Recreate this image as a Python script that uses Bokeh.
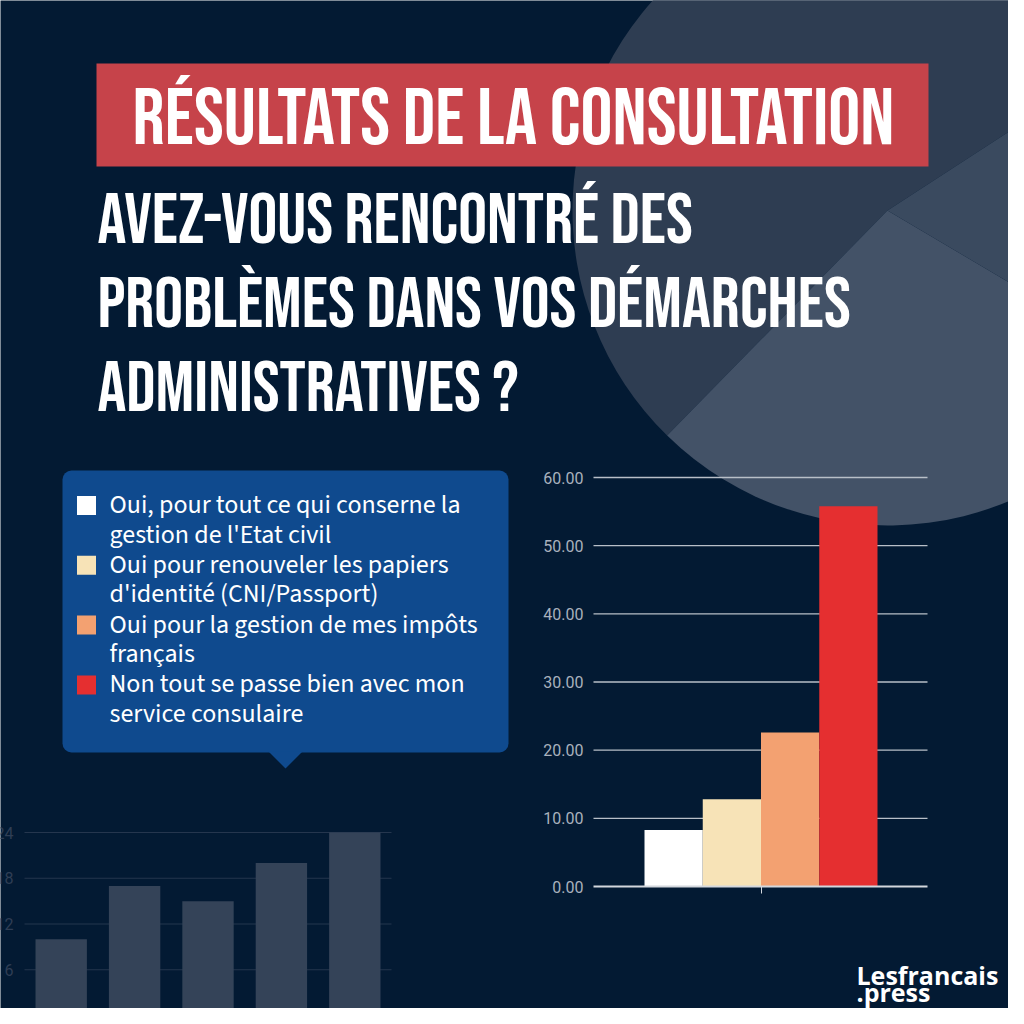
import subprocess
import numpy as np
from bokeh.plotting import figure
from bokeh.models import (Range1d, LinearAxis, FixedTicker, NumeralTickFormatter,
                          BoxAnnotation)
from bokeh.core.properties import value
from bokeh.embed import file_html
from bokeh.resources import INLINE

# ---------------- data ----------------
title_text = "RÉSULTATS DE LA CONSULTATION"
question_lines = ["AVEZ-VOUS RENCONTRÉ DES",
                  "PROBLÈMES DANS VOS DÉMARCHES",
                  "ADMINISTRATIVES ?"]
answers = ["Oui, pour tout ce qui conserne la\ngestion de l'Etat civil",
           "Oui pour renouveler les papiers\nd'identité (CNI/Passport)",
           "Oui pour la gestion de mes impôts\nfrançais",
           "Non tout se passe bien avec mon\nservice consulaire"]
percentages = [8.3, 12.8, 22.6, 55.8]
answer_colors = ["#ffffff", "#f7e3b7", "#f3a171", "#e52f30"]
y_ticks = [0, 10, 20, 30, 40, 50, 60]

deco_values = [10, 17, 15, 20, 24]
deco_ticks = [0, 6, 12, 18, 24]

brand_lines = ["Lesfrancais", ".press"]

# ---------------- fonts available ----------------
try:
    _fc = subprocess.run(["fc-list", ":", "family"], capture_output=True, text=True).stdout
    FAMS = set()
    for ln in _fc.splitlines():
        for f in ln.split(","):
            FAMS.add(f.strip())
except Exception:
    FAMS = set()


def pick(options, default):
    for name, *rest in options:
        if name in FAMS:
            return (name, *rest)
    return default


# (family, style, title size, question size)
HEAD_FONT, HEAD_STYLE, TITLE_SIZE, Q_SIZE = pick(
    [("Bebas Neue", "normal", 80, 72), ("Oswald", "bold", 60, 52),
     ("Anton", "normal", 58, 50), ("Archivo Narrow", "bold", 62, 54)],
    ("Roboto", "bold", 45, 44))
BODY_FONT, BODY_SIZE = pick(
    [("Source Sans Pro", 26), ("Source Sans 3", 26)], ("Open Sans", 23))


def css(name):
    return value(f"'{name}'")


# ---------------- styling ----------------
BG = "#031a33"
W = H = 1008


def span(px_a, v_a, px_b, v_b, px_lo, px_hi):
    k = (v_b - v_a) / (px_b - px_a)
    return Range1d(start=v_a + (px_lo - px_a) * k, end=v_a + (px_hi - px_a) * k)


def inv(rng, px_lo, px_hi, px):
    return rng.start + (px - px_lo) / (px_hi - px_lo) * (rng.end - rng.start)


p = figure(width=W, height=H,
           x_range=Range1d(0, W), y_range=Range1d(H, 0),
           output_backend="svg", toolbar_location=None,
           x_axis_type=None, y_axis_type=None, min_border=0,
           background_fill_color=BG, border_fill_color=BG, outline_line_color=None)

# chart coordinate systems (mapped onto the canvas pixels)
bx = span(644, 0.5, 877, 4.5, 0, W)
by = span(886, 0.0, 477, 60.0, H, 0)
dx = span(24, 0.5, 391, 5.5, 0, W)
dy = span(1015, 0.0, 832, 24.0, H, 0)
p.extra_x_ranges = {"bx": bx, "dx": dx}
p.extra_y_ranges = {"by": by, "dy": dy}

# ---------------- background disc (pie-like) ----------------
cx, cy, r = 887, 210, 315
a1, a2, a3 = np.deg2rad(33), np.deg2rad(225.6), np.deg2rad(329.4)
p.wedge(x=[cx] * 3, y=[cy] * 3, radius=r,
        start_angle=[a1, a2, a3], end_angle=[a2, a3, a1 + 2 * np.pi],
        fill_color=["#2e3d52", "#435267", "#3a4a5f"], line_color=None)

# ---------------- title banner ----------------
p.quad(left=96, right=928, top=63, bottom=166, fill_color="#c6434a", line_color=None)
p.text(x=[513], y=[119], text=[title_text], text_align="center",
       text_baseline="alphabetic", text_color="white",
       text_font=css(HEAD_FONT), text_font_style=HEAD_STYLE,
       text_font_size=f"{TITLE_SIZE}px")

p.text(x=[97] * 3, y=[221, 305, 389], text=question_lines, text_align="left",
       text_baseline="alphabetic", text_color="white",
       text_font=css(HEAD_FONT), text_font_style=HEAD_STYLE,
       text_font_size=f"{Q_SIZE}px")

# ---------------- legend box ----------------
box = BoxAnnotation(left=62, right=508, top=470, bottom=752,
                    fill_color="#0f4a8e", fill_alpha=1.0, line_color=None,
                    border_radius=9, level="underlay")
p.add_layout(box)
p.patch(x=[268, 302, 285], y=[751, 751, 768], fill_color="#0f4a8e", line_color=None)

first_base = 504
item_step = 59.8
line_step = 29.6
sq_y = [505 + i * item_step for i in range(len(answers))]
p.rect(x=[86] * len(answers), y=sq_y, width=19, height=19,
       fill_color=answer_colors, line_color=None)
lx, ly, lt = [], [], []
for i, lab in enumerate(answers):
    for j, part in enumerate(lab.split("\n")):
        lx.append(109)
        ly.append(first_base + i * item_step + j * line_step)
        lt.append(part)
p.text(x=lx, y=ly, text=lt, text_align="left", text_baseline="alphabetic",
       text_color="white", text_font=css(BODY_FONT),
       text_font_size=f"{BODY_SIZE}px")

# ---------------- decorative bar chart (bottom left) ----------------
p.segment(x0=0.5, x1=5.5, y0=deco_ticks[1:], y1=deco_ticks[1:],
          line_color="#25364e", line_width=1.2, x_range_name="dx", y_range_name="dy")
p.vbar(x=list(range(1, len(deco_values) + 1)), top=deco_values, width=0.7, bottom=0,
       fill_color="#344358", line_color=None, x_range_name="dx", y_range_name="dy")
dyax = LinearAxis(x_range_name="dx", y_range_name="dy", fixed_location=0.5,
                  ticker=FixedTicker(ticks=deco_ticks), axis_line_color=None,
                  major_tick_line_color=None, minor_tick_line_color=None,
                  major_tick_out=0, minor_tick_out=0, major_label_standoff=11,
                  major_label_text_color="#2f3e55",
                  major_label_text_font="Roboto", major_label_text_font_size="16px")
p.add_layout(dyax, "left")
dxax = LinearAxis(x_range_name="dx", y_range_name="dy", fixed_location=0,
                  ticker=FixedTicker(ticks=[0.5, 1.5, 2.5, 3.5, 4.5, 5.5]),
                  bounds=(0.5, 5.5), axis_line_color="#2c3c54", axis_line_width=1.5,
                  major_tick_line_color="#2c3c54", major_tick_out=6, major_tick_in=0,
                  minor_tick_line_color=None, major_label_text_alpha=0)
p.add_layout(dxax, "below")

# ---------------- main bar chart ----------------
x_lo = inv(bx, 0, W, 593)
x_hi = inv(bx, 0, W, 927)
p.segment(x0=x_lo, x1=x_hi, y0=y_ticks[1:], y1=y_ticks[1:],
          line_color="#b8bfc8", line_width=1.3, x_range_name="bx", y_range_name="by")
p.vbar(x=list(range(1, len(percentages) + 1)), top=percentages, width=1.0, bottom=0,
       fill_color=answer_colors, line_color=None, x_range_name="bx", y_range_name="by")
yax = LinearAxis(x_range_name="bx", y_range_name="by", fixed_location=x_lo,
                 ticker=FixedTicker(ticks=y_ticks),
                 formatter=NumeralTickFormatter(format="0.00"),
                 axis_line_color=None, major_tick_line_color=None,
                 minor_tick_line_color=None, major_tick_out=0, minor_tick_out=0,
                 major_label_standoff=10, major_label_text_color="#a9b1bd",
                 major_label_text_font="Roboto", major_label_text_font_size="16px")
p.add_layout(yax, "left")
xax = LinearAxis(x_range_name="bx", y_range_name="by", fixed_location=0,
                 ticker=FixedTicker(ticks=[2.5]), bounds=(x_lo, x_hi),
                 axis_line_color="#d3d7dd", axis_line_width=2,
                 major_tick_line_color="#d3d7dd", major_tick_out=7, major_tick_in=0,
                 minor_tick_line_color=None, major_label_text_alpha=0)
p.add_layout(xax, "below")

# ---------------- brand ----------------
p.text(x=[856, 856], y=[974, 991], text=brand_lines, text_align="left",
       text_baseline="alphabetic", text_color="white",
       text_font=value("Open Sans"), text_font_style="bold", text_font_size="25px")

open("out.html", "w").write(file_html(p, INLINE))
